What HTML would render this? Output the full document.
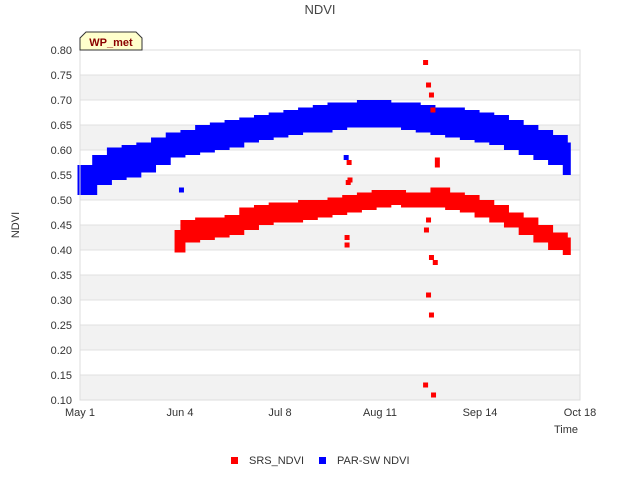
<!DOCTYPE html>
<html><head><meta charset="utf-8"><style>
body{margin:0;background:#fff;font-family:"Liberation Sans",sans-serif}
</style></head><body>
<svg id="chart" width="640" height="480" xmlns="http://www.w3.org/2000/svg" font-family="Liberation Sans, sans-serif">
<text x="320" y="14" text-anchor="middle" font-size="13" fill="#444">NDVI</text>
<g id="grid"></g>
<g id="marks"></g>
<g id="axes"></g>
<g>
<path d="M80,50 L80,38 L86,32 L136,32 L142,38 L142,50 Z" fill="#ffffcc" stroke="#333" stroke-width="1"/>
<text x="111" y="46" text-anchor="middle" font-size="11" font-weight="bold" fill="#8b0000">WP_met</text>
</g>
<text x="19" y="225" font-size="11" fill="#333" text-anchor="middle" transform="rotate(-90 19 225)">NDVI</text>
<text x="578" y="433" font-size="11" fill="#333" text-anchor="end">Time</text>
<g><rect x="231" y="457" width="7" height="7" fill="#ff0000"/><text x="249" y="464" font-size="11" fill="#333">SRS_NDVI</text></g>
<g><rect x="319" y="457" width="7" height="7" fill="#0000ff"/><text x="337" y="464" font-size="11" fill="#333">PAR-SW NDVI</text></g>
</svg>
<script>
const days=[0,5,10,15,20,25,30,35,40,45,50,55,60,65,70,75,80,85,90,95,100,105,110,115,120,125,130,135,140,145,150,155,160,165];
const blueLow=[0.515,0.535,0.545,0.55,0.56,0.575,0.59,0.595,0.60,0.605,0.61,0.62,0.625,0.63,0.635,0.64,0.64,0.645,0.65,0.65,0.65,0.65,0.645,0.64,0.635,0.63,0.625,0.62,0.615,0.605,0.595,0.585,0.575,0.555];
const blueHigh=[0.565,0.585,0.60,0.605,0.61,0.62,0.63,0.635,0.645,0.65,0.655,0.66,0.665,0.67,0.675,0.68,0.685,0.69,0.69,0.695,0.695,0.69,0.69,0.685,0.68,0.68,0.675,0.67,0.665,0.655,0.645,0.635,0.625,0.61];
const redDays=[33,35,40,45,50,55,60,65,70,75,80,85,90,95,100,105,110,115,120,125,130,135,140,145,150,155,160,165];
const redLow=[0.40,0.42,0.425,0.43,0.435,0.445,0.455,0.46,0.46,0.465,0.47,0.475,0.48,0.485,0.49,0.495,0.49,0.49,0.49,0.485,0.48,0.47,0.46,0.45,0.435,0.42,0.405,0.395];
const redHigh=[0.435,0.455,0.46,0.46,0.465,0.48,0.485,0.49,0.49,0.495,0.495,0.50,0.505,0.51,0.515,0.515,0.51,0.51,0.52,0.51,0.505,0.495,0.485,0.47,0.46,0.445,0.43,0.42];
const redOutDays=[117.5,118.5,119.5,120,121.5,121.5,117.8,118.5,119.5,120.8,118.5,119.5,117.5,120.2,91.5,91.8,91.2,90.8,90.8];
const redOutVals=[0.775,0.73,0.71,0.68,0.58,0.57,0.44,0.46,0.385,0.375,0.31,0.27,0.13,0.11,0.575,0.54,0.535,0.425,0.41];
const blueOutDays=[34.5,90.5];
const blueOutVals=[0.52,0.585];
const yTicks=[0.10,0.15,0.20,0.25,0.30,0.35,0.40,0.45,0.50,0.55,0.60,0.65,0.70,0.75,0.80];
const xTickDays=[0,34,68,102,136,170];
const xTickLabels=["May 1","Jun 4","Jul 8","Aug 11","Sep 14","Oct 18"];
const X=d=>80+d*500/170, Y=v=>400-(v-0.10)*500;
const NS="http://www.w3.org/2000/svg";
function mk(p,t,a){const e=document.createElementNS(NS,t);for(const k in a)e.setAttribute(k,a[k]);p.appendChild(e);return e;}
const grid=document.getElementById('grid'),marks=document.getElementById('marks'),axes=document.getElementById('axes');
for(let i=0;i<yTicks.length-1;i++){if(i%2===0){const r=mk(grid,'rect',{x:80,y:Y(yTicks[i+1]),width:500,height:Y(yTicks[i])-Y(yTicks[i+1]),fill:'#f2f2f2'});

}}
yTicks.forEach(v=>{const l=mk(grid,'line',{x1:80,x2:580,y1:Y(v),y2:Y(v),stroke:'#e0e0e0'});


const t=mk(axes,'text',{x:72,y:Y(v)+4,'text-anchor':'end','font-size':11,fill:'#333'});t.textContent=v.toFixed(2);

});
mk(axes,'rect',{x:80,y:50,width:500,height:350,fill:'none',stroke:'#ddd'});
xTickDays.forEach((d,i)=>{const t=mk(axes,'text',{x:X(d),y:416,'text-anchor':'middle','font-size':11,fill:'#333'});t.textContent=xTickLabels[i];

});
function band(ds,lo,hi,col,name){for(let i=0;i<ds.length;i++){const r=mk(marks,'rect',{x:X(ds[i])-2.5,y:Y(hi[i])-2.5,width:(i<ds.length-1?X(ds[i+1])-X(ds[i]):3)+5,height:Y(lo[i])-Y(hi[i])+5,fill:col});

}}
band(days,blueLow,blueHigh,'#0000ff','parsw-ndvi-points');
band(redDays,redLow,redHigh,'#ff0000','srs-ndvi-points');
function pts(ds,vs,col,name){ds.forEach((d,i)=>{const r=mk(marks,'rect',{x:X(d)-2.5,y:Y(vs[i])-2.5,width:5,height:5,fill:col});

});}
pts(redOutDays,redOutVals,'#ff0000','srs-ndvi-outlier');
pts(blueOutDays,blueOutVals,'#0000ff','parsw-ndvi-outlier');
</script>
</body></html>
